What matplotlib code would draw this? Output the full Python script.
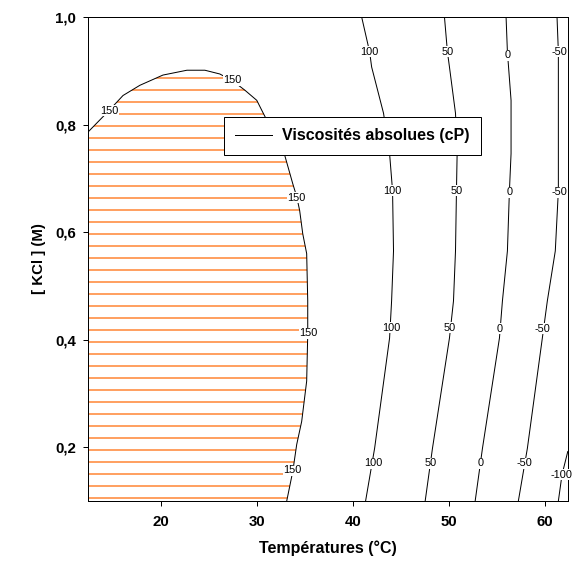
import matplotlib.pyplot as plt
from matplotlib.lines import Line2D

plt.rcParams['font.family'] = ['Liberation Sans', 'DejaVu Sans']
plt.rcParams['hatch.linewidth'] = 1.6

# iso-viscosity lines: temperature (°C) vs [KCl] (M)
x_150 = [12.40, 14.59, 16.05, 17.81, 20.21, 22.71, 24.58, 26.14, 27.49, 28.74, 29.99,
         30.61, 32.90, 33.74, 34.15, 34.46, 34.78, 35.19, 35.30, 35.30, 35.19, 34.67,
         34.15, 33.74, 33.11]
y_150 = [0.786, 0.826, 0.854, 0.873, 0.892, 0.901, 0.901, 0.894, 0.881, 0.864, 0.845,
         0.823, 0.743, 0.690, 0.666, 0.640, 0.597, 0.560, 0.472, 0.410, 0.323, 0.248,
         0.205, 0.155, 0.100]

x_100 = [40.92, 41.75, 41.96, 43.20, 43.83, 44.14, 44.24, 44.04, 43.83, 42.27, 41.33]
y_100 = [1.000, 0.935, 0.907, 0.821, 0.746, 0.677, 0.565, 0.472, 0.403, 0.198, 0.100]

x_50 = [49.55, 49.86, 50.07, 50.70, 50.87, 50.80, 50.70, 50.49, 50.07, 48.30, 47.54]
y_50 = [1.000, 0.935, 0.907, 0.821, 0.746, 0.677, 0.565, 0.472, 0.403, 0.198, 0.100]

x_0 = [55.97, 56.11, 56.49, 56.49, 56.32, 56.11, 55.59, 55.28, 53.51, 52.75]
y_0 = [1.000, 0.935, 0.845, 0.746, 0.677, 0.565, 0.472, 0.403, 0.198, 0.100]

x_m50 = [61.28, 61.42, 61.42, 61.10, 60.27, 59.75, 58.19, 57.25]
y_m50 = [1.000, 0.935, 0.677, 0.565, 0.472, 0.403, 0.198, 0.100]

x_m100 = [62.40, 61.80, 61.42]
y_m100 = [0.192, 0.149, 0.100]

# contour label positions
lab_150 = [(14.59, 0.826), (27.49, 0.882), (34.15, 0.664), (35.41, 0.412), (33.74, 0.157)]
lab_100 = [(41.75, 0.935), (44.14, 0.677), (44.00, 0.422), (42.09, 0.170)]
lab_50 = [(49.90, 0.935), (50.87, 0.677), (50.14, 0.422), (48.10, 0.170)]
lab_0 = [(56.15, 0.929), (56.32, 0.674), (55.35, 0.420), (53.37, 0.170)]
lab_m50 = [(61.52, 0.935), (61.52, 0.674), (59.78, 0.420), (57.88, 0.170)]
lab_m100 = [(61.80, 0.149)]

x_ticks = [20, 30, 40, 50, 60]
y_ticks = [0.2, 0.4, 0.6, 0.8, 1.0]
y_ticklabels = ['0,2', '0,4', '0,6', '0,8', '1,0']
x_lim = (12.4, 62.4)
y_lim = (0.1, 1.0)

fig = plt.figure(figsize=(577 / 72, 566 / 72), dpi=72)
ax = fig.add_axes([0.1525, 0.1148, 0.8315, 0.8552])

# region above 150 cP: orange horizontal hatching
ax.fill(x_150 + [x_lim[0]], y_150 + [y_lim[0]], facecolor='none',
        edgecolor='#ff8a3d', hatch='-', linewidth=0)

curves = [
    (150, x_150, y_150, lab_150),
    (100, x_100, y_100, lab_100),
    (50, x_50, y_50, lab_50),
    (0, x_0, y_0, lab_0),
    (-50, x_m50, y_m50, lab_m50),
    (-100, x_m100, y_m100, lab_m100),
]
for level, xs, ys, labels in curves:
    ax.plot(xs, ys, color='black', linewidth=1.0)
    for lx, ly in labels:
        ax.text(lx, ly, str(level), fontsize=11, ha='center', va='center',
                bbox=dict(facecolor='white', edgecolor='none', pad=0.6), zorder=3)

ax.set_xlim(*x_lim)
ax.set_ylim(*y_lim)
ax.set_xticks(x_ticks)
ax.set_xticklabels([str(t) for t in x_ticks], fontweight='bold')
ax.set_yticks(y_ticks)
ax.set_yticklabels(y_ticklabels, fontweight='bold')
ax.tick_params(axis='x', direction='out', length=5, width=1, labelsize=15, pad=9)
ax.tick_params(axis='y', direction='out', length=5, width=1, labelsize=15, pad=7)

ax.set_xlabel('Températures (°C)', fontsize=16, fontweight='bold', labelpad=11)
ax.set_ylabel('[ KCl ] (M)', fontsize=15, fontweight='bold', labelpad=9)

for spine in ax.spines.values():
    spine.set_linewidth(1)

handle = Line2D([], [], color='black', linewidth=1.0)
leg = ax.legend([handle], ['Viscosités absolues (cP)'], loc='upper left',
                bbox_to_anchor=(0.283, 0.793), borderaxespad=0, fancybox=False,
                framealpha=1, edgecolor='black', handlelength=2.3,
                handletextpad=0.65, borderpad=0.7, prop={'size': 16, 'weight': 'bold'})
leg.get_frame().set_linewidth(1)
leg.set_zorder(5)

plt.savefig('out.png', dpi=72)
